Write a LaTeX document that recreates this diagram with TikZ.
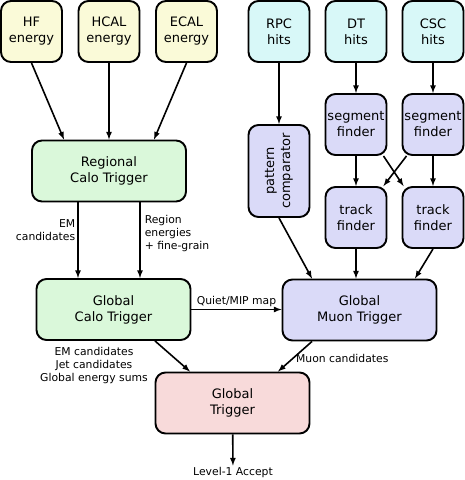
\documentclass[tikz,border=0pt]{standalone}
\usepackage{fontspec}
\setmainfont{DejaVu Sans}
\usetikzlibrary{positioning}
\definecolor{calin}{HTML}{FAFAD8}
\definecolor{calo}{HTML}{DAF8DA}
\definecolor{muin}{HTML}{D8F8F8}
\definecolor{muon}{HTML}{DADAF8}
\definecolor{glob}{HTML}{F8DADA}
\begin{document}
\begin{tikzpicture}[x=1pt, y=-1pt,
  box/.style={draw, line width=1.9pt, rounded corners=10pt, minimum width=61pt,
    minimum height=61pt, align=center, inner sep=2pt, font=\fontsize{13}{16}\selectfont},
  wide/.style={box, minimum width=154pt},
  arr/.style={-latex, line width=1.6pt},
  lbl/.style={font=\fontsize{10.8}{13}\selectfont, inner sep=2pt}]
  \useasboundingbox (0, 0) rectangle (465, 480);

  % inputs
  \node[box, fill=calin] (hf) at (31.5, 31.5) {HF\\energy};
  \node[box, fill=calin] (hcal) at (109, 31.5) {HCAL\\energy};
  \node[box, fill=calin] (ecal) at (186.5, 31.5) {ECAL\\energy};
  \node[box, fill=muin] (rpc) at (279, 31.5) {RPC\\hits};
  \node[box, fill=muin] (dt) at (356, 31.5) {DT\\hits};
  \node[box, fill=muin] (csc) at (433, 31.5) {CSC\\hits};

  % calo side
  \node[wide, fill=calo] (rct) at (109, 171) {Regional\\Calo Trigger};
  \node[wide, fill=calo] (gct) at (113.5, 309.5) {Global\\Calo Trigger};

  % muon side
  \node[box, fill=muon] (sfdt) at (356, 124.5) {segment\\finder};
  \node[box, fill=muon] (sfcsc) at (433, 124.5) {segment\\finder};
  \node[box, fill=muon, rotate=90, minimum width=92pt] (pc) at (279, 171) {pattern\\comparator};
  \node[box, fill=muon] (tfdt) at (356, 217.5) {track\\finder};
  \node[box, fill=muon] (tfcsc) at (433, 217.5) {track\\finder};
  \node[wide, fill=muon] (gmt) at (359.5, 310) {Global\\Muon Trigger};

  \node[wide, fill=glob] (gt) at (232.5, 403) {Global\\Trigger};
  \node[lbl] (l1a) at (233, 473) {Level-1 Accept};

  \draw[arr] (hf.south) -- ([xshift=-45pt]rct.north);
  \draw[arr] (hcal) -- (rct);
  \draw[arr] (ecal.south) -- ([xshift=45pt]rct.north);

  \draw[arr] ([xshift=-31pt]rct.south) --
    node[lbl, left, align=right, pos=0.36] {EM\\candidates} ([xshift=-31pt]rct.south |- gct.north);
  \draw[arr] ([xshift=31pt]rct.south) --
    node[lbl, right, align=left, pos=0.41, inner sep=4pt] {Region\\energies\\+ fine-grain} ([xshift=31pt]rct.south |- gct.north);

  \draw[arr] (rpc) -- (pc);
  \draw[arr] (dt) -- (sfdt);
  \draw[arr] (csc) -- (sfcsc);
  \draw[arr] (sfdt) -- (tfdt);
  \draw[arr] (sfcsc) -- (tfcsc);
  \draw[arr] ([xshift=-4pt]sfdt.south east) -- ([xshift=2pt]tfcsc.north west);
  \draw[arr] ([xshift=5pt]sfcsc.south west) -- ([xshift=-4pt]tfdt.north east);

  \draw[arr] (pc.west) -- ([xshift=-47.5pt]gmt.north);
  \draw[arr] (tfdt) -- (tfdt |- gmt.north);
  \draw[arr] (tfcsc.south) -- ([xshift=55.5pt]gmt.north);

  \draw[arr] (gct.east) -- node[lbl, above] {Quiet/MIP map} (gct.east -| gmt.west);

  \draw[arr] ([xshift=41.5pt]gct.south) -- ([xshift=-42.5pt]gt.north);
  \node[lbl, align=center] (gctout) at (94, 366) {EM candidates\\Jet candidates\\Global energy sums};
  \draw[arr] ([xshift=-47.5pt]gmt.south) --
    node[lbl, anchor=west, pos=0.55] {Muon candidates} ([xshift=45.5pt]gt.north);

  \draw[arr] (gt) -- (l1a);
\end{tikzpicture}
\end{document}
